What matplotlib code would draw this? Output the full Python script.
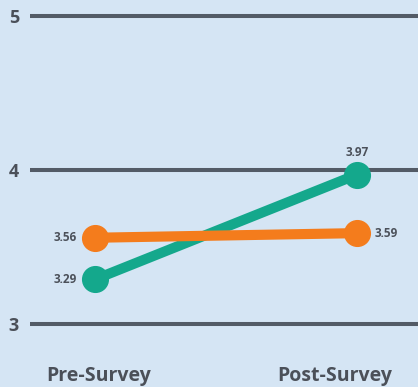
import matplotlib.pyplot as plt
from matplotlib.transforms import ScaledTranslation

# survey averages
stages = ['Pre-Survey', 'Post-Survey']
green_scores = [3.29, 3.97]
orange_scores = [3.56, 3.59]
y_ticks = [3, 4, 5]

bg = '#d5e5f4'
grid_col = '#535b66'
text_col = '#4b5059'
green = '#14a88c'
orange = '#f47c1c'

plt.rcParams['font.family'] = ['Open Sans', 'DejaVu Sans']

fig = plt.figure(figsize=(4.18, 3.87), dpi=100)
fig.patch.set_facecolor(bg)
ax = fig.add_axes([30/418, 0.1429, 388/418, 0.8357])
ax.set_facecolor(bg)

x = list(range(len(stages)))

for yv in y_ticks:
    ax.axhline(yv, color=grid_col, lw=2.9, zorder=1)

ax.plot(x, green_scores, '-o', color=green, lw=7.3, ms=18.5, zorder=3,
        solid_capstyle='butt')
ax.plot(x, orange_scores, '-o', color=orange, lw=7.3, ms=18.5, zorder=4,
        solid_capstyle='butt')

# value labels
lab = dict(color=text_col, fontsize=8.5, fontweight='bold', va='center')
ax.annotate(f'{green_scores[0]:.2f}', (x[0], green_scores[0]), xytext=(-13, 0),
            textcoords='offset points', ha='right', **lab)
ax.annotate(f'{orange_scores[0]:.2f}', (x[0], orange_scores[0]), xytext=(-13, 0),
            textcoords='offset points', ha='right', **lab)
ax.annotate(f'{green_scores[1]:.2f}', (x[1], green_scores[1]), xytext=(0, 16),
            textcoords='offset points', ha='center', **lab)
ax.annotate(f'{orange_scores[1]:.2f}', (x[1], orange_scores[1]), xytext=(13, 0),
            textcoords='offset points', ha='left', **lab)

ax.set_xlim(-0.248, 1.233)
ax.set_ylim(2.95, 5.05)
ax.set_xticks(x)
ax.set_xticklabels(stages, fontsize=14, fontweight='bold', color=text_col)
ax.set_yticks(y_ticks)
ax.set_yticklabels([str(v) for v in y_ticks], fontsize=13, fontweight='bold',
                   color=text_col)
ax.tick_params(axis='x', length=0, pad=25)
ax.tick_params(axis='y', length=0, pad=8)
for s in ax.spines.values():
    s.set_visible(False)

# nudge the x labels so the right one stays inside the figure
shifts = [0.04, -0.22]
for tl, dx in zip(ax.get_xticklabels(), shifts):
    tl.set_transform(tl.get_transform() + ScaledTranslation(dx, 0, fig.dpi_scale_trans))

fig.savefig('out.png', dpi=100, facecolor=bg)
